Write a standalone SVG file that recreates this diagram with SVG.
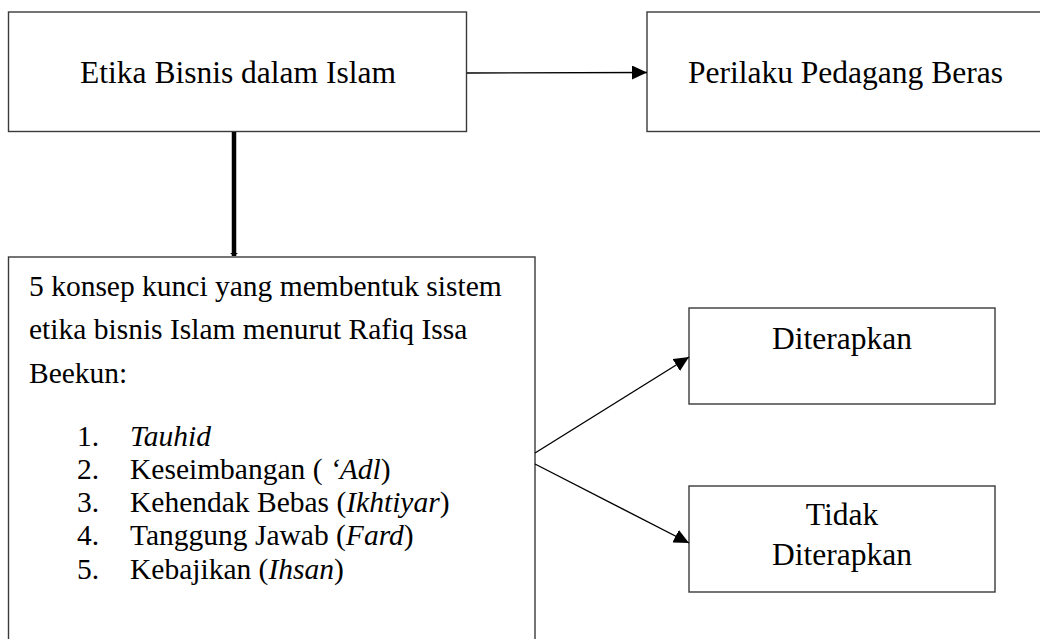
<svg xmlns="http://www.w3.org/2000/svg" width="1040" height="639" viewBox="0 0 1040 639">
<style>
.box{fill:#fff;stroke:#3a3a3a;stroke-width:1.4}
.t{font-family:"Liberation Serif","Times New Roman",serif;fill:#000}
.big{font-size:31.5px}
.mid{font-size:29.5px}
.it{font-style:italic}
.ln{stroke:#000;stroke-width:1.4;fill:none}
</style>
<defs>
<marker id="ah" markerWidth="16" markerHeight="14" refX="15" refY="7" orient="auto" markerUnits="userSpaceOnUse">
<path d="M0,0 L15,7 L0,14 Z" fill="#000"/>
</marker>
<marker id="ahs" markerWidth="10" markerHeight="8" refX="3" refY="4" orient="auto" markerUnits="userSpaceOnUse">
<path d="M0,0 L3,4 L0,8 Z" fill="#000"/>
</marker>
</defs>
<g id="n1">
<rect class="box" x="8.5" y="12" width="458" height="119.5"/>
<text class="t big" x="238" y="83" text-anchor="middle">Etika Bisnis dalam Islam</text>
</g>
<g id="n2">
<rect class="box" x="647" y="12" width="420" height="119.5"/>
<text class="t big" x="688" y="83">Perilaku Pedagang Beras</text>
</g>
<g id="n3">
<rect class="box" x="8.5" y="257" width="526.5" height="420"/>
<text class="t mid" x="29" y="296">5 konsep kunci yang membentuk sistem</text>
<text class="t mid" x="29" y="339">etika bisnis Islam menurut Rafiq Issa</text>
<text class="t mid" x="29" y="383">Beekun:</text>
<text class="t mid" x="77" y="446">1.</text>
<text class="t mid it" x="130" y="446">Tauhid</text>
<text class="t mid" x="77" y="479">2.</text>
<text class="t mid" x="130" y="479">Keseimbangan ( <tspan class="it">‘Adl</tspan>)</text>
<text class="t mid" x="77" y="512">3.</text>
<text class="t mid" x="130" y="512">Kehendak Bebas (<tspan class="it">Ikhtiyar</tspan>)</text>
<text class="t mid" x="77" y="545">4.</text>
<text class="t mid" x="130" y="545">Tanggung Jawab (<tspan class="it">Fard</tspan>)</text>
<text class="t mid" x="77" y="579">5.</text>
<text class="t mid" x="130" y="579">Kebajikan (<tspan class="it">Ihsan</tspan>)</text>
</g>
<g id="n4">
<rect class="box" x="689" y="308" width="306" height="96"/>
<text class="t big" x="842" y="349" text-anchor="middle">Diterapkan</text>
</g>
<g id="n5">
<rect class="box" x="689" y="486" width="306" height="106"/>
<text class="t big" x="842" y="525" text-anchor="middle">Tidak</text>
<text class="t big" x="842" y="565" text-anchor="middle">Diterapkan</text>
</g>
<g id="connectors">
<line class="ln" x1="467" y1="73" x2="647" y2="72.5" marker-end="url(#ah)"/>
<line x1="234" y1="132" x2="234" y2="256" stroke="#000" stroke-width="4.5" marker-end="url(#ahs)"/>
<line class="ln" x1="535" y1="453" x2="689" y2="357" marker-end="url(#ah)"/>
<line class="ln" x1="535" y1="464" x2="689" y2="543" marker-end="url(#ah)"/>
</g>
</svg>
